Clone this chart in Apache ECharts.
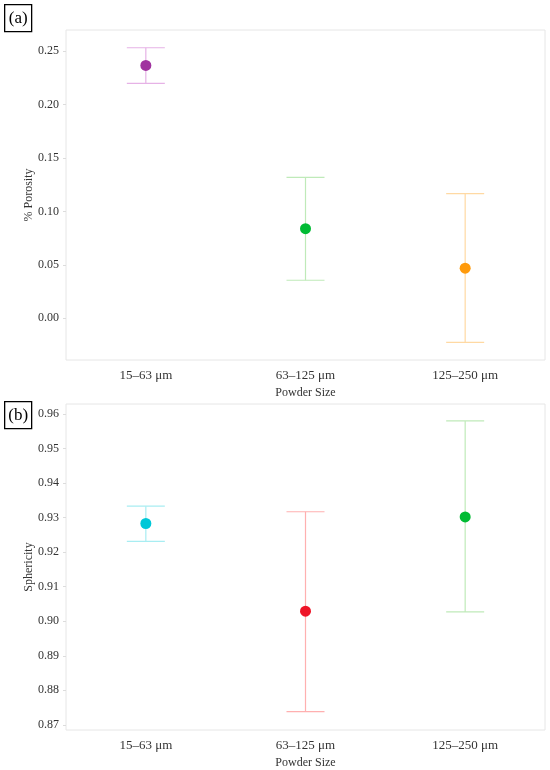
<!DOCTYPE html>
<html>
<head>
<meta charset="utf-8">
<script src="https://cdn.jsdelivr.net/npm/echarts@6/dist/echarts.min.js"></script>
<style>
  html, body { margin: 0; padding: 0; background: #fff; }
  #chart { width: 550px; height: 770px; }
</style>
</head>
<body>
<div id="chart"></div>
<script>
// categories shared by both panels
const sizes = ['15–63 μm', '63–125 μm', '125–250 μm']

// (a) porosity
const porosityMean = [0.2366, 0.0838, 0.0469]
const porosityLow = [0.2197, 0.0356, -0.0225]
const porosityHigh = [0.2531, 0.1319, 0.1166]
const porosityTicks = [0.00, 0.05, 0.10, 0.15, 0.20, 0.25]

// (b) sphericity
const spherMean = [0.9283, 0.9029, 0.9302]
const spherLow = [0.9231, 0.8738, 0.9027]
const spherHigh = [0.9333, 0.9317, 0.9580]
const spherTicks = [0.87, 0.88, 0.89, 0.90, 0.91, 0.92, 0.93, 0.94, 0.95, 0.96]

// colours (point / error bar)
const porosityDot = ['#a0339f', '#00bb33', '#ff9a0a']
const porosityBar = ['#e6b2e6', '#bfeab9', '#ffd9a3']
const spherDot = ['#00c8d8', '#ee1427', '#00bb33']
const spherBar = ['#a8edf2', '#ffb0b0', '#bfeab9']

const serif = '"Liberation Serif", "DejaVu Serif", serif'
const txt = '#333'

let chart = echarts.init(document.getElementById('chart'))

const makeX = gridIndex => ({
  type: 'category',
  gridIndex,
  data: sizes,
  name: 'Powder Size',
  nameLocation: 'middle',
  nameGap: 27,
  nameMoveOverlap: false,
  nameTextStyle: { fontFamily: serif, fontSize: 12, color: txt },
  axisLine: { show: false },
  axisTick: { alignWithLabel: true, length: 4, lineStyle: { color: '#dcdcdc' } },
  axisLabel: { fontFamily: serif, fontSize: 13, color: txt, margin: 9 },
})

const makeY = (gridIndex, name, min, max, ticks) => ({
  type: 'value',
  gridIndex,
  min,
  max,
  name,
  nameLocation: 'middle',
  nameGap: 31,
  nameMoveOverlap: false,
  nameTextStyle: { fontFamily: serif, fontSize: 12, color: txt },
  splitLine: { show: false },
  axisLine: { show: false },
  axisTick: { show: true, length: 3, lineStyle: { color: '#dcdcdc' }, customValues: ticks },
  axisLabel: {
    fontFamily: serif, fontSize: 12, color: txt, margin: 7,
    customValues: ticks,
    formatter: v => v.toFixed(2),
  },
})

// error bars: vertical line + caps
const errorBar = (xi, yi, low, high, colors) => ({
  type: 'custom',
  xAxisIndex: xi,
  yAxisIndex: yi,
  data: low.map((l, i) => [i, l, high[i]]),
  encode: { x: 0, y: [1, 2] },
  silent: true,
  z: 1,
  renderItem: (params, api) => {
    const i = api.value(0)
    const lo = api.coord([i, api.value(1)])
    const hi = api.coord([i, api.value(2)])
    const hw = 19
    const style = { stroke: colors[i], lineWidth: 1.2 }
    return {
      type: 'group',
      children: [
        { type: 'line', shape: { x1: lo[0], y1: lo[1], x2: hi[0], y2: hi[1] }, style },
        { type: 'line', shape: { x1: hi[0] - hw, y1: hi[1], x2: hi[0] + hw, y2: hi[1] }, style },
        { type: 'line', shape: { x1: lo[0] - hw, y1: lo[1], x2: lo[0] + hw, y2: lo[1] }, style },
      ],
    }
  },
})

const points = (xi, yi, mean, colors) => ({
  type: 'scatter',
  xAxisIndex: xi,
  yAxisIndex: yi,
  symbolSize: 11,
  z: 3,
  data: mean.map((v, i) => ({ value: [i, v], itemStyle: { color: colors[i], opacity: 1 } })),
})

const panelLabel = (text, top) => ({
  type: 'group',
  left: 4,
  top,
  children: [
    { type: 'rect', shape: { x: 0, y: 0, width: 27, height: 27 }, style: { fill: '#fff', stroke: '#000', lineWidth: 1.3 } },
    { type: 'text', x: 13.5, y: 14, style: { text, fontFamily: serif, fontSize: 17, fill: '#000', align: 'center', verticalAlign: 'middle' } },
  ],
})

let option = {
  backgroundColor: '#fff',
  animation: false,
  grid: [
    { left: 66, top: 30, width: 479, height: 330, show: true, borderColor: '#e6e6e6', borderWidth: 1, backgroundColor: '#fff' },
    { left: 66, top: 404, width: 479, height: 330, show: true, borderColor: '#e6e6e6', borderWidth: 1, backgroundColor: '#fff' },
  ],
  xAxis: [makeX(0), makeX(1)],
  yAxis: [
    makeY(0, '% Porosity', -0.039, 0.2697, porosityTicks),
    makeY(1, 'Sphericity', 0.8685, 0.9629, spherTicks),
  ],
  series: [
    errorBar(0, 0, porosityLow, porosityHigh, porosityBar),
    points(0, 0, porosityMean, porosityDot),
    errorBar(1, 1, spherLow, spherHigh, spherBar),
    points(1, 1, spherMean, spherDot),
  ],
  graphic: [panelLabel('(a)', 4), panelLabel('(b)', 401)],
}

chart.setOption(option)
</script>
</body>
</html>
